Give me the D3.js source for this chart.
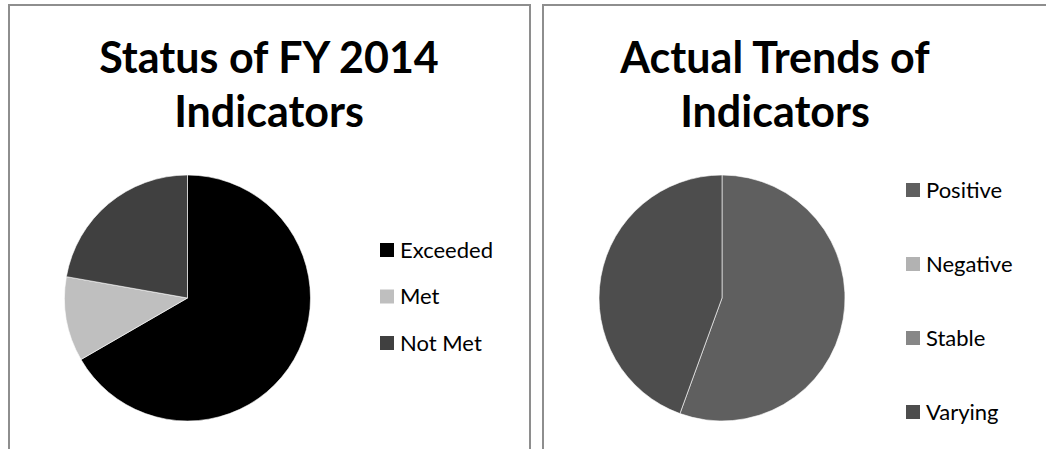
<!DOCTYPE html>
<html>
<head>
<meta charset="utf-8">
<script src="https://cdn.jsdelivr.net/npm/d3@7"></script>
<style>
  body { margin: 0; background: #fff; }
  svg { display: block; }
</style>
</head>
<body>
<svg id="chart"></svg>
<script>
// data
var statusCategories = ["Exceeded", "Met", "Not Met"];
var statusValues = [12, 2, 4];
var statusColors = ["#000000", "#bfbfbf", "#404040"];

var trendCategories = ["Positive", "Negative", "Stable", "Varying"];
var trendValues = [10, 0, 0, 8];
var trendColors = ["#5f5f5f", "#b2b2b2", "#878787", "#4d4d4d"];

var W = 1046, H = 449;

var svg = d3.select("#chart")
  .attr("width", W)
  .attr("height", H);

svg.append("rect")
  .attr("width", W)
  .attr("height", H)
  .attr("fill", "#fff");

function drawPanel(opt) {
  var g = svg.append("g");

  // panel border (open at the bottom, as in the cropped original)
  g.append("path")
    .attr("d", "M" + opt.left + "," + (H + 2) + "V" + opt.top + "H" + opt.right + (opt.closeRight ? "V" + (H + 2) : ""))
    .attr("fill", "none")
    .attr("stroke", "#8e8e8e")
    .attr("stroke-width", 2);

  // title
  var title = g.append("text")
    .attr("text-anchor", "middle")
    .attr("font-family", "Lato, 'Open Sans', sans-serif")
    .attr("font-weight", "bold")
    .attr("font-size", opt.titleSize + "px")
    .attr("fill", "#000");
  opt.title.forEach(function (t, i) {
    title.append("tspan")
      .attr("x", opt.titleX)
      .attr("y", opt.titleY + i * 54)
      .text(t);
  });

  var color = d3.scaleOrdinal().domain(opt.categories).range(opt.colors);

  var pie = d3.pie().sort(null).value(function (d) { return d.value; });
  var arc = d3.arc().innerRadius(0).outerRadius(opt.r);

  var data = opt.categories.map(function (c, i) { return { name: c, value: opt.values[i] }; });

  g.append("g")
    .attr("transform", "translate(" + opt.cx + "," + opt.cy + ")")
    .selectAll("path")
    .data(pie(data).filter(function (d) { return d.value > 0; }))
    .enter()
    .append("path")
    .attr("d", arc)
    .attr("fill", function (d) { return color(d.data.name); })
    .attr("stroke", "#fff")
    .attr("stroke-width", 0.6);

  // legend
  var ly = d3.scalePoint()
    .domain(opt.categories)
    .range(opt.legendRange);

  var item = g.selectAll(".legend")
    .data(opt.categories)
    .enter()
    .append("g")
    .attr("class", "legend")
    .attr("transform", function (d) { return "translate(" + opt.legendX + "," + ly(d) + ")"; });

  item.append("rect")
    .attr("x", 0)
    .attr("y", -7)
    .attr("width", 14)
    .attr("height", 14)
    .attr("fill", function (d) { return color(d); });

  item.append("text")
    .attr("x", 20)
    .attr("y", 7.5)
    .attr("font-family", "Lato, 'Open Sans', sans-serif")
    .attr("font-size", "22px")
    .attr("fill", "#000")
    .text(function (d) { return d; });
}

drawPanel({
  left: 9, top: 5, right: 530, closeRight: true,
  title: ["Status of FY 2014", "Indicators"],
  titleX: 269, titleY: 73, titleSize: 43,
  categories: statusCategories, values: statusValues, colors: statusColors,
  cx: 187.5, cy: 298, r: 123,
  legendX: 380, legendRange: [250, 343]
});

drawPanel({
  left: 543, top: 5, right: W + 4, closeRight: false,
  title: ["Actual Trends of", "Indicators"],
  titleX: 775, titleY: 73, titleSize: 43,
  categories: trendCategories, values: trendValues, colors: trendColors,
  cx: 722, cy: 298, r: 123,
  legendX: 906, legendRange: [190, 412]
});
</script>
</body>
</html>
